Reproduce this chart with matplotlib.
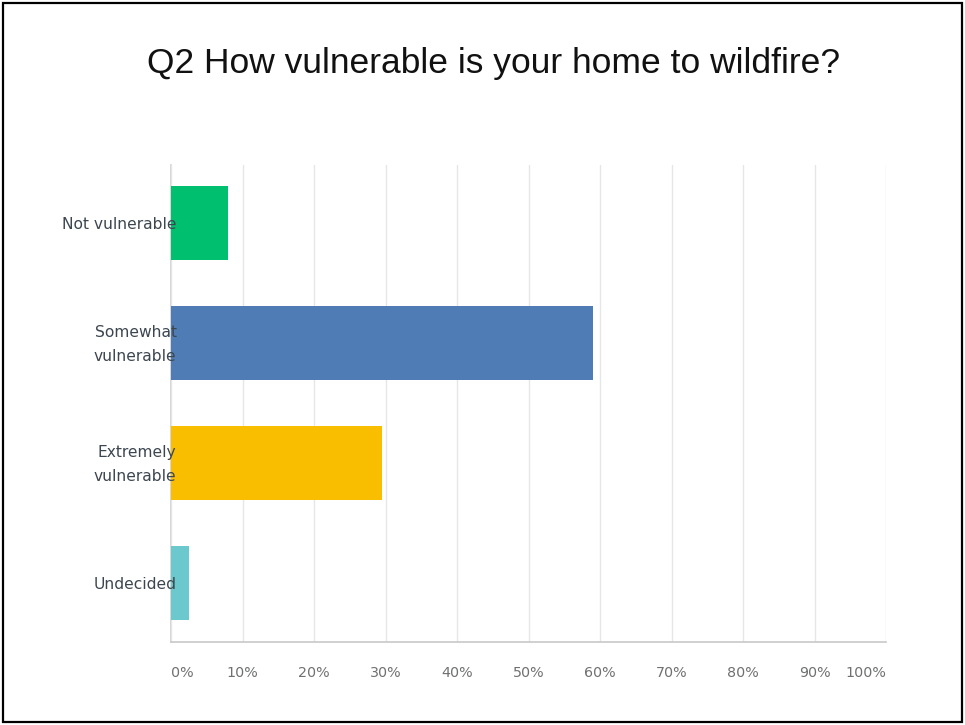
import matplotlib
matplotlib.use("Agg")
import matplotlib.pyplot as plt
import matplotlib.transforms as mtransforms
from matplotlib.patches import Rectangle

# answer choices and share of responses (fraction of 1)
categories = ["Not vulnerable", "Somewhat\nvulnerable", "Extremely\nvulnerable", "Undecided"]
values = [0.08, 0.59, 0.295, 0.025]
colors = ["#00BF6F", "#507CB6", "#F9BE00", "#6BC8CD"]
tick_values = [0.0, 0.1, 0.2, 0.3, 0.4, 0.5, 0.6, 0.7, 0.8, 0.9, 1.0]
tick_labels = ["0%", "10%", "20%", "30%", "40%", "50%", "60%", "70%", "80%", "90%", "100%"]

fig = plt.figure(figsize=(9.65, 7.25), dpi=100)
ax = fig.add_axes([171 / 965, 1 - 642 / 725, 715 / 965, 477 / 725])

ypos = range(len(categories))
ax.barh(ypos, values, height=0.617, color=colors, zorder=2)

ax.set_xlim(0, 1)
ax.set_ylim(3.49, -0.485)

ax.set_xticks(tick_values)
ax.set_xticklabels(tick_labels, fontsize=10.3, color="#6f7070", family="DejaVu Sans")
labs = ax.get_xticklabels()
labs[0].set_ha("left")
labs[-1].set_ha("right")
ax.tick_params(axis="x", length=0, pad=17)

ax.set_yticks(list(ypos))
ax.set_yticklabels(categories, fontsize=11.2, color="#3c4650", family="DejaVu Sans", linespacing=1.8)
ax.tick_params(axis="y", length=0, pad=-4)
# two-line labels sit a little high in the original
shift = mtransforms.ScaledTranslation(0, 5 / 100, fig.dpi_scale_trans)
for lab in ax.get_yticklabels():
    if "\n" in lab.get_text():
        lab.set_transform(lab.get_transform() + shift)

# grid under the bars, category labels over them
ax.xaxis.set_zorder(1)
ax.yaxis.set_zorder(3)
ax.grid(True, axis="x", color="#e6e6e6", linewidth=1)
for s in ["top", "right"]:
    ax.spines[s].set_visible(False)
ax.spines["left"].set_color("#d0d0d0")
ax.spines["bottom"].set_color("#c8c8c8")
ax.spines["left"].set_linewidth(1.2)
ax.spines["bottom"].set_linewidth(1.2)
ax.spines["left"].set_zorder(1)

fig.text(494 / 965, 1 - 63 / 725, "Q2 How vulnerable is your home to wildfire?",
         ha="center", va="center", fontsize=25.5, family="Liberation Sans", color="#111111")

# outer frame
fig.patches.append(Rectangle((3 / 965, 3 / 725), 959 / 965, 719 / 725, transform=fig.transFigure,
                             fill=False, edgecolor="black", linewidth=1.6))

fig.savefig("out.png", dpi=100)
